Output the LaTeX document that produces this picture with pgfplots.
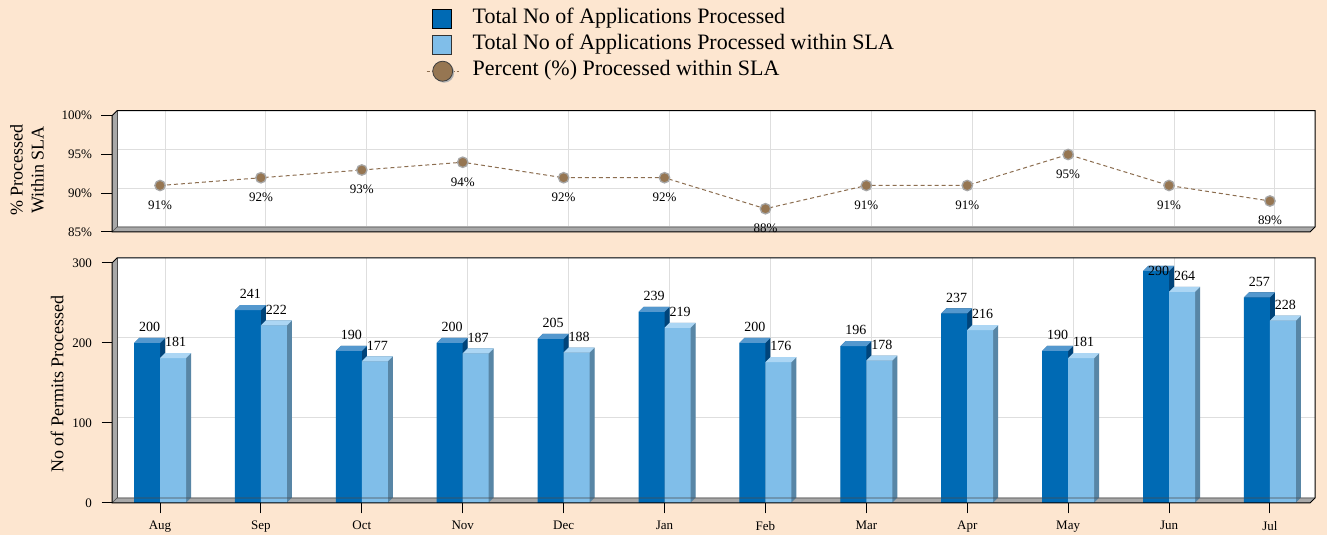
\documentclass[border=0pt]{standalone}
\usepackage{pgfplots}
\pgfplotsset{compat=1.18}
\usepackage{pgfplotstable}
\usepackage{fontspec}
\setmainfont{Liberation Serif}

\definecolor{bg}{RGB}{253,230,208}
\definecolor{frontD}{RGB}{0,106,180}
\definecolor{topD}{RGB}{84,152,206}
\definecolor{sideD}{RGB}{0,68,122}
\definecolor{frontL}{RGB}{128,190,233}
\definecolor{topL}{RGB}{172,214,244}
\definecolor{sideL}{RGB}{88,134,166}
\definecolor{wall}{RGB}{168,168,168}
\definecolor{gridc}{RGB}{222,222,222}
\definecolor{dotc}{RGB}{150,118,82}
\definecolor{linec}{RGB}{140,110,80}

% top faces of the bars (offset 5pt back and up)
\pgfdeclareplotmark{faceD}{%
  \pgfpathmoveto{\pgfqpoint{-26pt}{0pt}}%
  \pgfpathlineto{\pgfqpoint{0pt}{0pt}}%
  \pgfpathlineto{\pgfqpoint{5pt}{5pt}}%
  \pgfpathlineto{\pgfqpoint{-21pt}{5pt}}%
  \pgfpathclose\pgfusepathqfill}
\pgfdeclareplotmark{faceL}{%
  \pgfpathmoveto{\pgfqpoint{0pt}{0pt}}%
  \pgfpathlineto{\pgfqpoint{26pt}{0pt}}%
  \pgfpathlineto{\pgfqpoint{31pt}{5pt}}%
  \pgfpathlineto{\pgfqpoint{5pt}{5pt}}%
  \pgfpathclose\pgfusepathqfill}

\pgfplotstableread{
m tot sla pct
0 200 181 91
1 241 222 92
2 190 177 93
3 200 187 94
4 205 188 92
5 239 219 92
6 200 176 88
7 196 178 91
8 237 216 91
9 190 181 95
10 290 264 91
11 257 228 89
}\data

\pgfplotsset{
  panel/.style={
    x=100.9pt, xmin=-0.476, xmax=11.397,
    axis line style={draw=none},
    clip=false,
    xtick={0,...,11},
    grid=major,
    major grid style={draw=gridc, line width=1pt, xshift=5pt, yshift=5pt},
    tick align=outside,
    ytick pos=left, xtick pos=bottom,
    major tick length=10.5pt,
    tick style={black, line width=1pt},
    tick label style={font=\fontsize{13}{15}\selectfont},
    yticklabel style={xshift=-6pt},
    /pgf/number format/assume math mode=true,
  },
}

\begin{document}
\begin{tikzpicture}
\fill[bg] (0pt,0pt) rectangle (1327pt,535pt);

% 3D frames: back wall, left wall, floor
\foreach \yb/\yt in {32/272, 303/419.25}{
  \fill[white] (117pt,\yb pt+5pt) rectangle (1315pt,\yt pt+5pt);
  \fill[wall] (112pt,\yb pt) -- (117pt,\yb pt+5pt) -- (117pt,\yt pt+5pt) -- (112pt,\yt pt) -- cycle;
  \fill[wall] (112pt,\yb pt) -- (1310pt,\yb pt) -- (1315pt,\yb pt+5pt) -- (117pt,\yb pt+5pt) -- cycle;
}

\begin{axis}[panel, at={(112pt,32pt)}, anchor=south west,
  y=0.8pt, ymin=0, ymax=300, ytick={0,100,200,300},
  xticklabels={Aug,Sep,Oct,Nov,Dec,Jan,Feb,Mar,Apr,May,Jun,Jul},
  xticklabel style={yshift=-4pt},
  ylabel={No of Permits Processed},
  every axis y label/.style={at={(axis description cs:-0.0459,0.496)}, rotate=90, anchor=center, font=\fontsize{18}{20}\selectfont},
]
\pgfplotsinvokeforeach{0.5,1,1.5,2,2.5,3,3.5,4,4.5,5}{
  \addplot[ybar, bar width=26pt, bar shift=-13pt, fill=sideD, draw=none, xshift=#1pt, yshift=#1pt] table[x=m,y=tot]{\data};
}
\addplot[only marks, mark=faceD, mark options={fill=topD, draw=none}] table[x=m,y=tot]{\data};
\addplot[ybar, bar width=26pt, bar shift=-13pt, fill=frontD, draw=none,
  visualization depends on={rawy \as \ry},
  nodes near coords,
  nodes near coords style={black, font=\fontsize{14}{16}\selectfont, inner sep=0pt, anchor=south, xshift=-10.5pt, yshift={ifthenelse(\ry>280,-5,11)}}]
  table[x=m,y=tot]{\data};

\pgfplotsinvokeforeach{0.5,1,1.5,2,2.5,3,3.5,4,4.5,5}{
  \addplot[ybar, bar width=26pt, bar shift=13pt, fill=sideL, draw=none, xshift=#1pt, yshift=#1pt] table[x=m,y=sla]{\data};
}
\addplot[only marks, mark=faceL, mark options={fill=topL, draw=none}] table[x=m,y=sla]{\data};
\addplot[ybar, bar width=26pt, bar shift=13pt, fill=frontL, draw=none,
  nodes near coords,
  nodes near coords style={black, font=\fontsize{14}{16}\selectfont, inner sep=0pt, anchor=south, xshift=15.5pt, yshift=11pt}]
  table[x=m,y=sla]{\data};
\end{axis}

\begin{axis}[panel, at={(112pt,303pt)}, anchor=south west,
  y=7.75pt, ymin=85, ymax=100, ytick={85,90,95,100},
  yticklabel={\pgfmathprintnumber{\tick}\%},
  xticklabels={}, x tick style={draw=none},
  ylabel={\% Processed\\Within SLA},
  every axis y label/.style={at={(axis description cs:-0.071,0.533)}, rotate=90, anchor=center, align=center, font=\fontsize{18}{21}\selectfont},
  legend style={at={(axis description cs:0.2621,1.944)}, anchor=north west, draw=none, fill=none,
    font=\fontsize{22}{24}\selectfont, inner sep=0pt, row sep=0pt,
    nodes={text height=17pt, text depth=9pt, inner xsep=2pt, inner ysep=0pt}},
  legend cell align=left,
]
\addlegendimage{legend image code/.code={
  \draw[fill=frontD, draw=black, line width=0.8pt] (6pt,-9.5pt) rectangle (25pt,9.5pt);
  \path[draw=none] (0pt,0pt) -- (44pt,0pt);}}
\addlegendentry{Total No of Applications Processed}
\addlegendimage{legend image code/.code={
  \draw[fill=frontL, draw=black!80, line width=0.8pt] (6pt,-9.5pt) rectangle (25pt,9.5pt);
  \path[draw=none] (0pt,0pt) -- (44pt,0pt);}}
\addlegendentry{Total No of Applications Processed within SLA}
\addplot[linec, line width=1pt, dash pattern=on 4pt off 3pt,
  mark=*, mark size=5.2pt, mark options={solid, fill=dotc, draw=gray!70, line width=1.3pt},
  nodes near coords={\pgfmathprintnumber{\pgfplotspointmeta}\%},
  nodes near coords style={black, font=\fontsize{13}{15}\selectfont, anchor=north, inner sep=0pt, yshift=-14.5pt},
  legend image code/.code={
    \draw[linec, line width=1pt, dash pattern=on 3pt off 2pt] (0pt,0pt) -- (32pt,0pt);
    \fill[gray!60, draw=none] (17.5pt,-1.5pt) circle (10pt);
    \draw[solid, fill=dotc, draw=black!75, line width=0.8pt] (16pt,0pt) circle (10pt);
    \path[draw=none] (0pt,0pt) -- (44pt,0pt);}]
  table[x=m,y=pct]{\data};
\addlegendentry{Percent (\%) Processed within SLA}
\end{axis}

% frame outlines
\foreach \yb/\yt in {32/272, 303/419.25}{
  \draw[black!70, line width=0.6pt] (112pt,\yb pt) -- (117pt,\yb pt+5pt) -- (1315pt,\yb pt+5pt);
  \draw[black!70, line width=0.6pt] (117pt,\yb pt+5pt) -- (117pt,\yt pt+5pt);
  \draw[black, line width=1pt] (112pt,\yb pt) -- (112pt,\yt pt) -- (117pt,\yt pt+5pt) -- (1315pt,\yt pt+5pt)
    -- (1315pt,\yb pt+5pt) -- (1310pt,\yb pt) -- cycle;
}
\end{tikzpicture}
\end{document}
